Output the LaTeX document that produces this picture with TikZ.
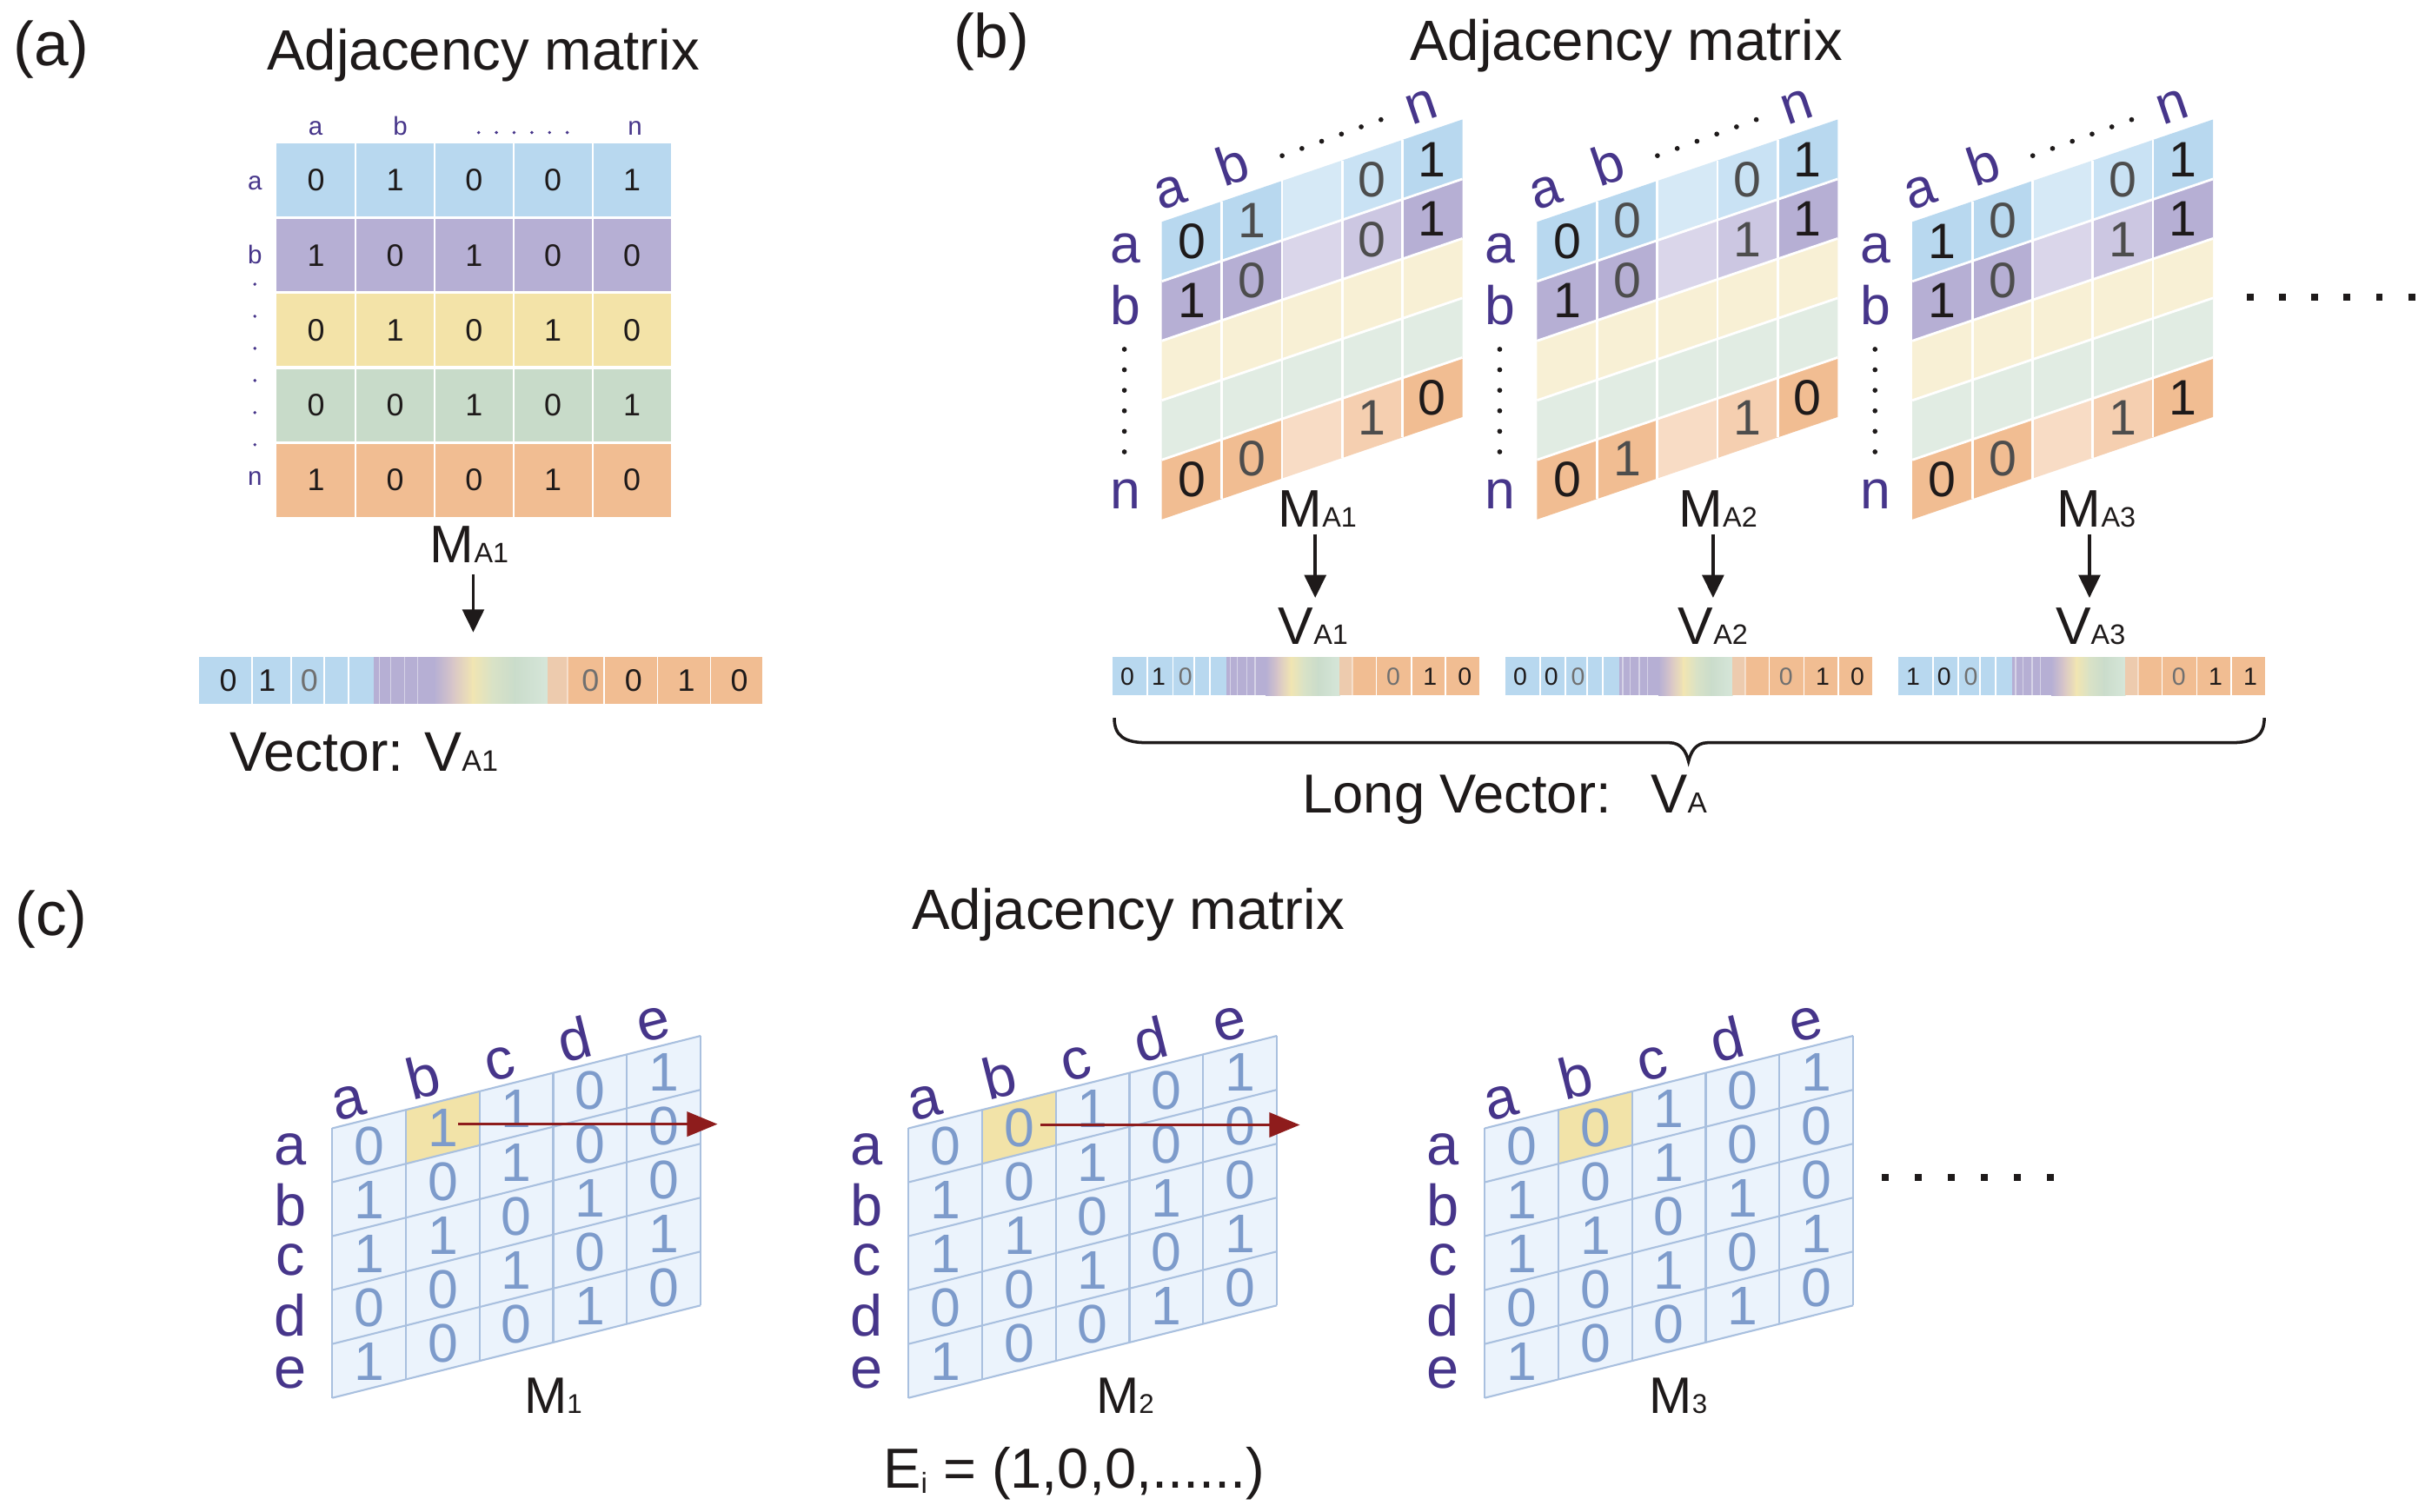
\documentclass[tikz,border=0pt]{standalone}
\usepackage{fontspec}
\setmainfont{Liberation Sans}
\usetikzlibrary{arrows.meta}
\definecolor{ink}{HTML}{1E1A1A}
\definecolor{lab}{HTML}{46358A}
\definecolor{rblue}{HTML}{B8D8EF}
\definecolor{rpurp}{HTML}{B6AFD4}
\definecolor{ryell}{HTML}{F3E3A8}
\definecolor{rgreen}{HTML}{C8DBC9}
\definecolor{rpeach}{HTML}{F1BD92}
\definecolor{lpeach}{HTML}{EDCBAE}
\definecolor{pblue3}{HTML}{D6E9F6}
\definecolor{pblue4}{HTML}{C9E2F4}
\definecolor{ppurp3}{HTML}{DAD6EA}
\definecolor{ppurp4}{HTML}{CCC7E2}
\definecolor{pyell}{HTML}{F8F0D5}
\definecolor{pgreen}{HTML}{E1ECE3}
\definecolor{ppeach3}{HTML}{F8DCC5}
\definecolor{ppeach4}{HTML}{F5CFB0}
\definecolor{gA}{HTML}{D8C6C8}
\definecolor{gB}{HTML}{F1E5B2}
\definecolor{gC}{HTML}{D9E2C6}
\definecolor{gD}{HTML}{CADCCB}
\definecolor{gE}{HTML}{D6E6D9}
\definecolor{cfill}{HTML}{EBF3FC}
\definecolor{cline}{HTML}{A9C0DF}
\definecolor{cdig}{HTML}{7D9BCB}
\definecolor{chl}{HTML}{F2E3A8}
\definecolor{darr}{HTML}{8E1C1C}
\definecolor{gdig}{HTML}{4D4D4D}
\definecolor{gdigl}{HTML}{707070}
\newcommand\fs[1]{\fontsize{#1pt}{#1pt}\selectfont}
\newcommand\sbs[2]{{\fontsize{#1pt}{#1pt}\selectfont #2}}
\tikzset{
  lblA/.style={font=\fs{8.4}, text=lab, inner sep=0pt, anchor=base},
  lblB/.style={font=\fs{17.8}, text=lab, inner sep=0pt},
  lblC/.style={font=\fs{19}, text=lab, inner sep=0pt},
  ttl/.style={font=\fs{18.6}, text=ink, inner sep=0pt, anchor=base},
  vlab/.style={font=\fs{18.3}, text=ink, inner sep=0pt, anchor=base west},
  plabel/.style={font=\fs{20.3}, text=ink, inner sep=0pt},
  mlab/.style={font=\fs{17.3}, text=ink, inner sep=0pt, anchor=base},
  mlabc/.style={font=\fs{16.8}, text=ink, inner sep=0pt, anchor=base},
  darrow/.style={line width=1.1pt, draw=ink, -{Triangle[length=7.5pt,width=7pt]}},
  rarrow/.style={line width=1pt, draw=darr, -{Triangle[length=10pt,width=8pt]}},
}
% vector bar: #1 x, #2 y, #3 width, #4 height, #5 digits, #6 font size, #7 name
\newcommand\vbar[7]{%
 \begin{scope}[shift={(#1,#2)}, x={(#3/100,0)}, y={(0,#4)}]
  \fill[rblue] (0,0) rectangle (31.2,1);
  \fill[rpurp] (31,0) rectangle (41.9,1);
  \shade[left color=rpurp, right color=gA] (41.7,0) rectangle (45.2,1);
  \shade[left color=gA, right color=gB] (45,0) rectangle (48.7,1);
  \shade[left color=gB, right color=gC] (48.5,0) rectangle (52.2,1);
  \shade[left color=gC, right color=gD] (52,0) rectangle (56.2,1);
  \shade[left color=gD, right color=gE] (56,0) rectangle (62,1);
  \fill[lpeach] (61.8,0) rectangle (65.6,1);
  \fill[rpeach] (65.4,0) rectangle (100,1);
  \foreach \xx in {9.4,16.4,22.2,26.5,71.9,81.4,90.8}
    \draw[white, line width=0.5pt] (\xx,0) -- (\xx,1);
  \foreach \xx in {32,34,36.5,38.8,65.4}
    \draw[white, opacity=0.45, line width=0.4pt] (\xx,0) -- (\xx,1);
  \foreach \p/\dg/\kc [count=\ii] in {#5}
    \node[font=\fs{#6}, text=\kc, inner sep=0pt] (#7-\ii) at (\p,0.5) {\dg};
 \end{scope}}
% panel (b) matrix: #1 TL x, #2 name, #3 digits r/c/d/colour
\newcommand\bmat[3]{%
 \begin{scope}[shift={(#1,142.8)}]
  \node[lblB] (#2-ra) at (-23.5,17.2) {a};
  \node[lblB] (#2-rb) at (-23.5,53.7) {b};
  \node[lblB] (#2-rn) at (-23.5,175.2) {n};
  \foreach \yy in {0,...,5} \fill[ink] (-24,82+13.2*\yy) circle (1.6);
  \node[lblB, rotate=18.8] (#2-ca) at (5.5,-19.3) {a};
  \node[lblB, rotate=18.8] (#2-cb) at (45.7,-37.5) {b};
  \node[lblB, rotate=18.8] (#2-cn) at (167.2,-74) {n};
  \foreach \ii in {0,...,5} \fill[ink] (77.5+12.72*\ii,-42.6-4.64*\ii) circle (1.6);
  \begin{scope}[x={(38.7,-13.18)}, y={(0,38.3)}]
   \foreach \rowc [count=\rr from 0] in {{rblue,rblue,pblue3,pblue4,rblue},{rpurp,rpurp,ppurp3,ppurp4,rpurp},{pyell,pyell,pyell,pyell,pyell},{pgreen,pgreen,pgreen,pgreen,pgreen},{rpeach,rpeach,ppeach3,ppeach4,rpeach}}
     \foreach \kc [count=\cc from 0] in \rowc
       \fill[\kc] (\cc,\rr) -- ++(1,0) -- ++(0,1) -- ++(-1,0) -- cycle;
   \foreach \ii in {1,...,4} {
     \draw[white, line width=0.8pt] (\ii,0) -- (\ii,5);
     \draw[white, line width=0.8pt] (0,\ii) -- (5,\ii);}
   \foreach \rr/\cc/\dg/\kc in {#3}
     \node[font=\fs{16.3}, text=\kc, inner sep=0pt] (#2-\rr-\cc) at (\cc+0.5,\rr+0.5) {\dg};
  \end{scope}
 \end{scope}}
% panel (c) matrix: #1 TL x, #2 name, #3 highlighted digit
\newcommand\cmat[3]{%
 \begin{scope}[shift={(#1,726.2)}]
  \foreach \tx/\yy [count=\ii] in {a/13.8,b/49.3,c/84.7,d/120.2,e/157.6}
    \node[lblC] (#2-r\ii) at (-27.1,\yy) {\tx};
  \foreach \tx/\xx/\yy [count=\ii] in {a/10.8/-16.7,b/58.4/-33.5,c/108.2/-41.4,d/155.9/-57.2,e/206.7/-67}
    \node[lblC, rotate=14.1] (#2-c\ii) at (\xx,\yy) {\tx};
  \begin{scope}[x={(47.4,-11.9)}, y={(0,34.7)}]
   \fill[cfill] (0,0) -- (5,0) -- (5,5) -- (0,5) -- cycle;
   \fill[chl] (1,0) -- (2,0) -- (2,1) -- (1,1) -- cycle;
   \foreach \ii in {0,...,5} {
     \draw[cline, line width=0.6pt] (\ii,0) -- (\ii,5);
     \draw[cline, line width=0.6pt] (0,\ii) -- (5,\ii);}
   \foreach \rowd [count=\rr from 0] in {{0,#3,1,0,1},{1,0,1,0,0},{1,1,0,1,0},{0,0,1,0,1},{1,0,0,1,0}}
     \foreach \dg [count=\cc from 0] in \rowd
       \node[font=\fs{17.8}, text=cdig, inner sep=0pt] (#2-\rr-\cc) at (\cc+0.5,\rr+0.5) {\dg};
  \end{scope}
 \end{scope}}

\begin{document}
\begin{tikzpicture}[x=0.01788cm, y=-0.01788cm]
\fill[white] (0,0) rectangle (1560.4,972.6);
\useasboundingbox (0,0) rectangle (1560.4,972.6);

% ---------------- (a)
\node[plabel] (pa) at (33,32) {(a)};
\node[ttl] (ta) at (311,45) {Adjacency matrix};
\begin{scope}[shift={(178,92)}, x={(50.8,0)}, y={(0,48.2)}]
 \foreach \kc [count=\rr from 0] in {rblue,rpurp,ryell,rgreen,rpeach}
   \fill[\kc] (0,\rr) rectangle (5,\rr+1);
 \foreach \ii in {1,...,4} {
   \draw[white, line width=0.6pt] (\ii,0) -- (\ii,5);
   \draw[white, line width=0.9pt] (0,\ii) -- (5,\ii);}
 \foreach \rowd [count=\rr from 0] in {{0,1,0,0,1},{1,0,1,0,0},{0,1,0,1,0},{0,0,1,0,1},{1,0,0,1,0}}
   \foreach \dg [count=\cc from 0] in \rowd
     \node[font=\fs{10.2}, text=ink, inner sep=0pt] (am-\rr-\cc) at (\cc+0.5,\rr+0.5) {\dg};
\end{scope}
\node[lblA] (a-ca) at (203,86.7) {a};
\node[lblA] (a-cb) at (257.6,86.7) {b};
\node[lblA] (a-cn) at (408.6,86.7) {n};
\foreach \ii in {0,...,5} \fill[lab] (308+11.4*\ii,85.3) circle (1.1);
\node[lblA] (a-ra) at (164,122) {a};
\node[lblA] (a-rb) at (164,170) {b};
\node[lblA] (a-rn) at (164,312.3) {n};
\foreach \ii in {0,...,5} \fill[lab] (164,182.9+20.66*\ii) circle (1.1);
\node[mlab] (a-M) at (302,362) {M\sbs{9.2}{A1}};
\coordinate (a-as) at (304.5,369.5);
\coordinate (a-ae) at (304.5,407);
\draw[darrow] (a-as) -- (a-ae);
\vbar{128}{423}{362.6}{30}{5.2/0/ink,12.1/1/ink,19.6/0/gdigl,69.5/0/gdigl,77.1/0/ink,86.5/1/ink,95.9/0/ink}{10.2}{a-v}
\node[vlab] (a-vl) at (147.5,496.6) {Vector: V\sbs{9.7}{A1}};

% ---------------- (b)
\node[plabel] (pb) at (638,27) {(b)};
\node[ttl] (tb) at (1046.5,39) {Adjacency matrix};
\bmat{747.5}{b1}{0/0/0/ink,0/1/1/gdig,0/3/0/gdig,0/4/1/ink,1/0/1/ink,1/1/0/gdig,1/3/0/gdig,1/4/1/ink,4/0/0/ink,4/1/0/gdig,4/3/1/gdig,4/4/0/ink}
\bmat{989}{b2}{0/0/0/ink,0/1/0/gdig,0/3/0/gdig,0/4/1/ink,1/0/1/ink,1/1/0/gdig,1/3/1/gdig,1/4/1/ink,4/0/0/ink,4/1/1/gdig,4/3/1/gdig,4/4/0/ink}
\bmat{1230.5}{b3}{0/0/1/ink,0/1/0/gdig,0/3/0/gdig,0/4/1/ink,1/0/1/ink,1/1/0/gdig,1/3/1/gdig,1/4/1/ink,4/0/0/ink,4/1/0/gdig,4/3/1/gdig,4/4/1/ink}
\node[mlab] (b-M1) at (847.8,339) {M\sbs{9.2}{A1}};
\node[mlab] (b-M2) at (1105.5,339) {M\sbs{9.2}{A2}};
\node[mlab] (b-M3) at (1349,339) {M\sbs{9.2}{A3}};
\foreach \xx [count=\ii] in {846.3,1102.3,1344.5} {
  \coordinate (b-as\ii) at (\xx,343.7);
  \coordinate (b-ae\ii) at (\xx,384.8);
  \draw[darrow] (b-as\ii) -- (b-ae\ii);}
\node[mlab] (b-V1) at (845,414.7) {V\sbs{9.2}{A1}};
\node[mlab] (b-V2) at (1102.3,414.7) {V\sbs{9.2}{A2}};
\node[mlab] (b-V3) at (1345.2,414.7) {V\sbs{9.2}{A3}};
\vbar{716}{423}{236}{24.5}{4/0/ink,12.5/1/ink,19.8/0/gdigl,76.5/0/gdigl,86.5/1/ink,96/0/ink}{8.1}{b-v1}
\vbar{968.7}{423}{236}{24.5}{4/0/ink,12.5/0/ink,19.8/0/gdigl,76.5/0/gdigl,86.5/1/ink,96/0/ink}{8.1}{b-v2}
\vbar{1221.5}{423}{236}{24.5}{4/1/ink,12.5/0/ink,19.8/0/gdigl,76.5/0/gdigl,86.5/1/ink,96/1/ink}{8.1}{b-v3}
\coordinate (br-l) at (717,462);
\coordinate (br-t) at (1086.5,490);
\coordinate (br-r) at (1457,462);
\draw[ink, line width=1pt] (br-l) .. controls (717,474) and (724,478) .. (738,478) -- (1074,478)
  .. controls (1082,478) and (1085,484) .. (br-t)
  .. controls (1088,484) and (1091,478) .. (1099,478) -- (1436,478)
  .. controls (1450,478) and (1457,474) .. (br-r);
\node[font=\fs{18}, text=ink, inner sep=0pt, anchor=base west] (b-lv) at (837.7,523) {Long Vector:\hspace{13pt}V\sbs{9.5}{A}};
\foreach \ii in {0,...,5} \fill[ink] (1447.8+20.8*\ii-2.2,189.2) rectangle ++(4.4,4.4);

% ---------------- (c)
\node[plabel] (pc) at (33,592) {(c)};
\node[ttl] (tc) at (726,598) {Adjacency matrix};
\cmat{213.8}{c1}{1}
\cmat{584.6}{c2}{0}
\cmat{955.4}{c3}{0}
\coordinate (c1-as) at (295,723.5);
\coordinate (c1-ae) at (461.7,723.5);
\draw[rarrow] (c1-as) -- (c1-ae);
\coordinate (c2-as) at (669.7,724);
\coordinate (c2-ae) at (836.4,724);
\draw[rarrow] (c2-as) -- (c2-ae);
\node[mlabc] (c-M1) at (356,909.4) {M\sbs{8.9}{1}};
\node[mlabc] (c-M2) at (724,909.4) {M\sbs{8.9}{2}};
\node[mlabc] (c-M3) at (1080,909.4) {M\sbs{8.9}{3}};
\node[font=\fs{18.5}, text=ink, inner sep=0pt, anchor=base west] (ei) at (568,958) {E\raisebox{-1.5pt}{\sbs{9.5}{i}} = (1,0,0,......)};
\foreach \ii in {0,...,5} \fill[ink] (1213+21.3*\ii-2.2,755.4) rectangle ++(4.4,4.4);
\end{tikzpicture}
\end{document}
